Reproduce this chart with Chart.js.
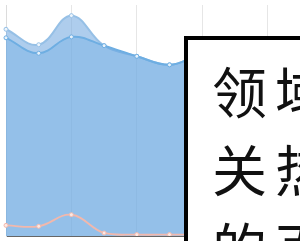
<!DOCTYPE html>
<html>
<head>
<meta charset="utf-8">
<script src="https://cdn.jsdelivr.net/npm/chart.js@4.4.1/dist/chart.umd.min.js"></script>
<style>
    html, body { margin: 0; padding: 0; background: #fff; overflow: hidden; }
    body { width: 300px; height: 241px; position: relative; }
    #wrap { position: absolute; left: 0; top: 0; width: 340px; height: 241px; }
    .note {
        position: absolute;
        left: 184px;
        top: 36px;
        width: 300px;
        height: 300px;
        border: 4px solid #000;
        background: #fff;
        box-sizing: border-box;
        padding: 10px 0 0 24px;
        font-family: "Noto Sans CJK SC", sans-serif;
        font-size: 55px;
        line-height: 78px;
        letter-spacing: 8px;
        color: #111;
        white-space: nowrap;
    }
</style>
</head>
<body>
<div id="wrap"><canvas id="areaChart" width="340" height="241"></canvas></div>
<div class="note">领域相<br>关热度<br>的百分</div>
<script>
// categories (x axis)
const categories = ['1', '2', '3', '4', '5', '6', '7', '8', '9', '10', '11'];

// series values
const upperValues = [89.5, 82.8, 95.4, 82.4, 77.8, 74.1, 78.2, 76.0, 73.0, 70.0, 68.0];
const mainValues  = [85.8, 79.1, 86.2, 82.4, 77.8, 74.1, 78.2, 76.0, 73.0, 70.0, 68.0];
const pinkValues  = [4.6, 4.2, 9.2, 1.3, 0.6, 0.6, 0.6, 0.8, 0.5, 0.4, 0.5];

const yMin = 0;
const yMax = 100;

document.addEventListener('DOMContentLoaded', () => {
    const ctx = document.getElementById('areaChart');

    new Chart(ctx, {
        type: 'line',
        data: {
            labels: categories,
            datasets: [
                {
                    // drawn last (on top)
                    data: pinkValues,
                    borderColor: 'rgb(242, 184, 172)',
                    backgroundColor: 'rgba(242, 184, 172, 0)',
                    borderWidth: 1.8,
                    fill: false,
                    tension: 0.4,
                    pointRadius: 2,
                    pointBackgroundColor: '#fbe9e5',
                    pointBorderColor: 'rgb(242, 184, 172)',
                    pointBorderWidth: 1
                },
                {
                    data: mainValues,
                    borderColor: 'rgb(110, 174, 226)',
                    backgroundColor: 'rgba(110, 170, 225, 0.74)',
                    borderWidth: 2,
                    fill: 'origin',
                    tension: 0.4,
                    pointRadius: 2,
                    pointBackgroundColor: '#e8f2fb',
                    pointBorderColor: 'rgb(110, 174, 226)',
                    pointBorderWidth: 1
                },
                {
                    data: upperValues,
                    borderColor: 'rgb(150, 192, 230)',
                    backgroundColor: 'rgba(120, 172, 225, 0.6)',
                    borderWidth: 2,
                    fill: 1,
                    tension: 0.4,
                    pointRadius: 2,
                    pointBackgroundColor: '#eef5fc',
                    pointBorderColor: 'rgb(150, 192, 230)',
                    pointBorderWidth: 1
                }
            ]
        },
        options: {
            responsive: false,
            animation: false,
            devicePixelRatio: 1,
            layout: { padding: { left: 6, right: 7, top: 0, bottom: 0 } },
            plugins: {
                legend: { display: false },
                tooltip: { enabled: false }
            },
            scales: {
                x: {
                    grid: {
                        color: (c) => (c.index > 0 && c.index % 2 === 0) ? '#e6e6e6' : 'rgba(0,0,0,0)',
                        drawTicks: false
                    },
                    border: { color: '#666', width: 1 },
                    ticks: { display: false }
                },
                y: {
                    min: yMin,
                    max: yMax,
                    grid: { display: false, drawTicks: false },
                    border: { color: '#dcdcdc', width: 1 },
                    ticks: { display: false }
                }
            }
        }
    });
});
</script>
</body>
</html>
